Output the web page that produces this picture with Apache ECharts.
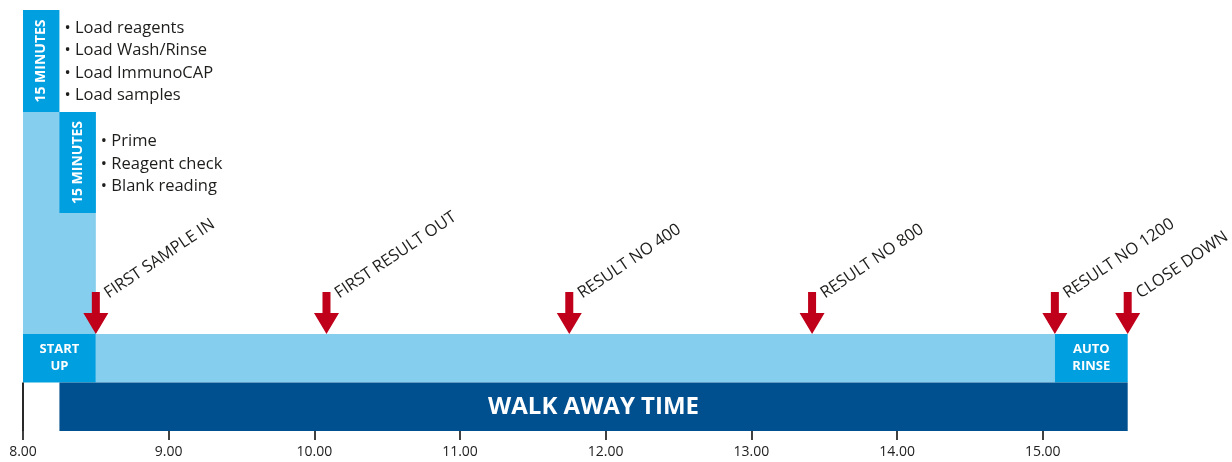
<!DOCTYPE html>
<html><head><meta charset="utf-8">
<script src="https://cdn.jsdelivr.net/npm/echarts@6/dist/echarts.min.js"></script>
<style>html,body{margin:0;padding:0;background:#fff}#c{width:1232px;height:462px}</style>
</head><body><div id="c"></div>
<script>
// ---- data ----
const tickValues = [8, 9, 10, 11, 12, 13, 14, 15];
const blockLabels = ['', '15 MINUTES', '15 MINUTES', 'START\nUP', '', 'AUTO\nRINSE', 'WALK AWAY TIME'];
const blockKinds  = ['column', 'load', 'prime', 'startup', 'run', 'rinse', 'walk'];
const blockStart  = [8.0, 8.0, 8.25, 8.0, 8.5, 15.0833, 8.25];
const blockEnd    = [8.5, 8.25, 8.5, 8.5, 15.0833, 15.5833, 15.5833];
const loadTasks   = ['Load reagents', 'Load Wash/Rinse', 'Load ImmunoCAP', 'Load samples'];
const primeTasks  = ['Prime', 'Reagent check', 'Blank reading'];
const milestoneLabels = ['FIRST SAMPLE IN', 'FIRST RESULT OUT', 'RESULT NO 400', 'RESULT NO 800', 'RESULT NO 1200', 'CLOSE DOWN'];
const milestoneTimes  = [8.5, 10.0833, 11.75, 13.4167, 15.0833, 15.5833];

// ---- layout & style ----
const FONT = '"Open Sans", "Noto Sans", sans-serif';
const LIGHT = '#86CEEE', MID = '#009FE0', DARK = '#00508F', RED = '#C0001B', INK = '#1d1d1b';
const lanes = { column: [97, 319], load: [319, 421], prime: [218, 319], startup: [48.5, 97], run: [48.5, 97], rinse: [48.5, 97], walk: [0, 48.5] };
const fills = { column: LIGHT, load: MID, prime: MID, startup: MID, run: LIGHT, rinse: MID, walk: DARK };
const notes = { load: { items: loadTasks, dx: 5, dy: 7 }, prime: { items: primeTasks, dx: 5, dy: 18.5 } };
const labelFonts = { load: 'bold 14px ' + FONT, prime: 'bold 14px ' + FONT, startup: 'bold 13px ' + FONT, rinse: 'bold 13px ' + FONT, walk: 'bold 24px ' + FONT };

function renderBlock(params, api) {
  const i = params.dataIndex;
  const kind = blockKinds[i];
  const [y0, y1] = lanes[kind];
  const p0 = api.coord([api.value(0), y1]);
  const p1 = api.coord([api.value(1), y0]);
  const x = p0[0], y = p0[1], w = p1[0] - p0[0], h = p1[1] - p0[1];
  const children = [{ type: 'rect', shape: { x: x, y: y, width: w, height: h }, style: { fill: fills[kind] } }];
  const label = blockLabels[i];
  if (label) {
    const vertical = kind === 'load' || kind === 'prime';
    children.push({ type: 'text', x: x + w / 2, y: y + h / 2, rotation: vertical ? Math.PI / 2 : 0,
      style: { text: label, fill: '#fff', font: labelFonts[kind], align: 'center', verticalAlign: 'middle', lineHeight: 17 } });
  }
  const note = notes[kind];
  if (note) {
    children.push({ type: 'text', x: p1[0] + note.dx, y: y + note.dy,
      style: { text: note.items.map(t => '\u2022 ' + t).join('\n'), fill: INK, font: '16.5px ' + FONT, lineHeight: 22.5, align: 'left', verticalAlign: 'top' } });
  }
  if (kind === 'startup') {
    const base = api.coord([api.value(0), 0]);
    children.push({ type: 'line', shape: { x1: x, y1: y + h, x2: x, y2: base[1] }, style: { stroke: '#111', lineWidth: 1.8 } });
  }
  return { type: 'group', children: children };
}

function renderMilestone(params, api) {
  const tip = api.coord([api.value(0), lanes.run[1]]);
  const tx = tip[0], ty = tip[1];
  return { type: 'group', children: [
    { type: 'polygon', shape: { points: [[tx - 4, ty - 42], [tx + 4, ty - 42], [tx + 4, ty - 21], [tx + 12.5, ty - 21], [tx, ty], [tx - 12.5, ty - 21], [tx - 4, ty - 21]] }, style: { fill: RED } },
    { type: 'text', x: tx + 15, y: ty - 32, rotation: 34 * Math.PI / 180,
      style: { text: milestoneLabels[params.dataIndex], fill: INK, font: '16.5px ' + FONT, align: 'left', verticalAlign: 'bottom' } }
  ] };
}

const chart = echarts.init(document.getElementById('c'), null, { renderer: 'canvas' });
chart.setOption({
  animation: false,
  backgroundColor: '#fff',
  grid: { left: 23, right: 43.6, top: 0, bottom: 31 },
  xAxis: {
    type: 'value', min: 8, max: 16,
    axisLine: { show: false }, splitLine: { show: false },
    axisTick: { show: true, customValues: tickValues, length: 9, lineStyle: { color: '#111', width: 1.6 } },
    axisLabel: { customValues: tickValues, formatter: v => v.toFixed(2), margin: 14, fontSize: 14, color: '#222', fontFamily: FONT }
  },
  yAxis: { type: 'value', min: 0, max: 431, show: false },
  series: [
    { type: 'custom', renderItem: renderBlock, encode: { x: [0, 1] }, data: blockStart.map((s, i) => [s, blockEnd[i]]), clip: false },
    { type: 'custom', renderItem: renderMilestone, encode: { x: 0 }, data: milestoneTimes.map(t => [t]), clip: false }
  ]
});
</script></body></html>
